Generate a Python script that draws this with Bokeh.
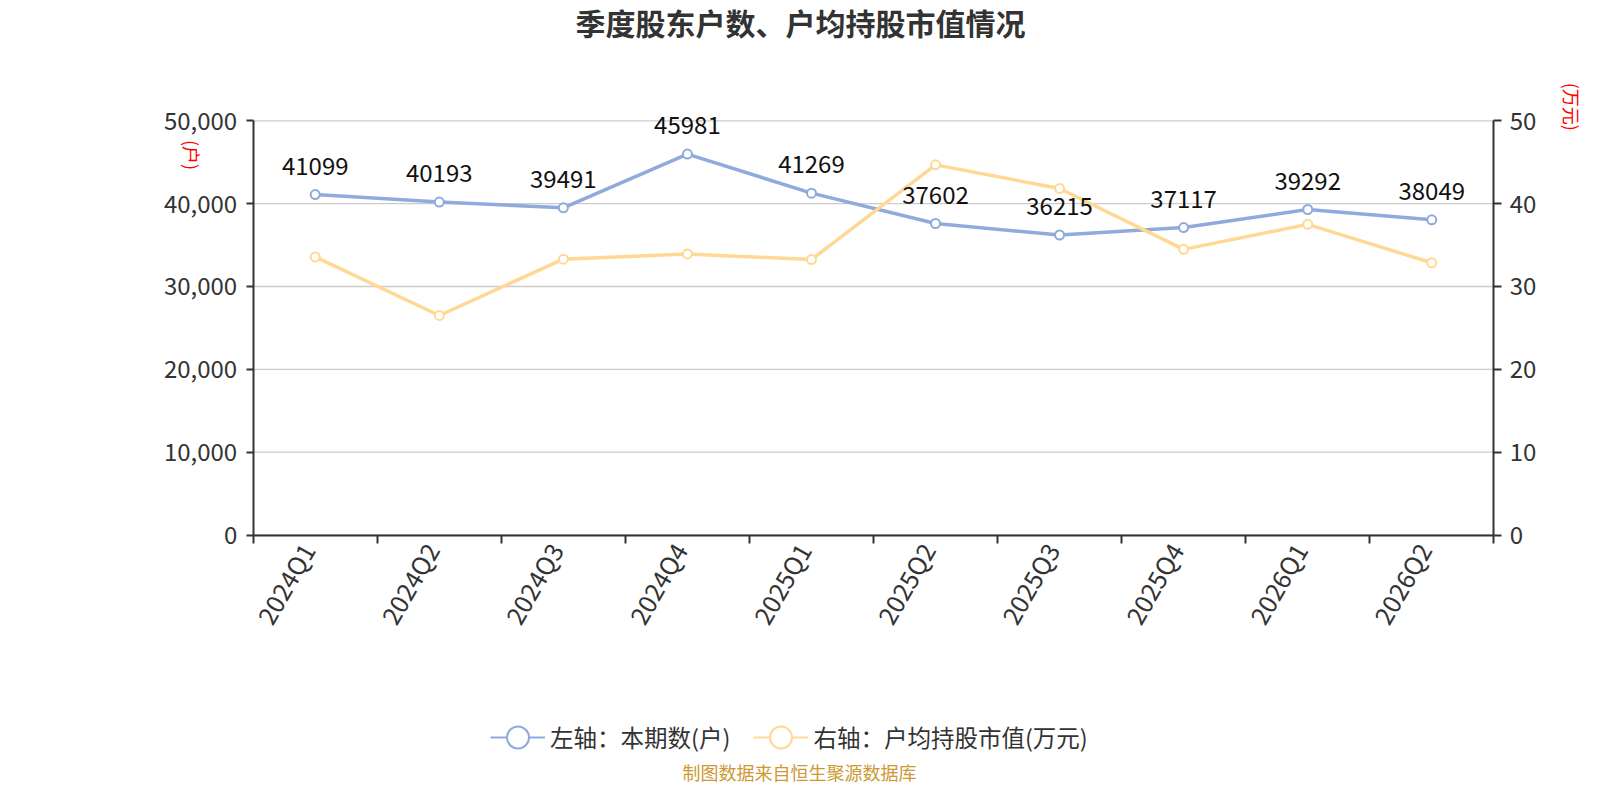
import math
from bokeh.plotting import figure
from bokeh.models import (ColumnDataSource, Range1d, LinearAxis, FixedTicker,
                          NumeralTickFormatter, Label, LabelSet, Legend, LegendItem)
from bokeh.core.properties import value
from bokeh.embed import file_html
from bokeh.resources import INLINE

# ---- data ----
quarters = ["2024Q1", "2024Q2", "2024Q3", "2024Q4", "2025Q1",
            "2025Q2", "2025Q3", "2025Q4", "2026Q1", "2026Q2"]
holders = [41099, 40193, 39491, 45981, 41269, 37602, 36215, 37117, 39292, 38049]
avg_value = [33.57, 26.50, 33.30, 33.93, 33.25, 44.68, 41.83, 34.48, 37.50, 32.86]
left_ticks = [0, 10000, 20000, 30000, 40000, 50000]
right_ticks = [0, 10, 20, 30, 40, 50]

title_text = "季度股东户数、户均持股市值情况"
legend_left = "左轴：本期数(户)"
legend_right = "右轴：户均持股市值(万元)"
unit_left = "(户)"
unit_right = "(万元)"
footer_text = "制图数据来自恒生聚源数据库"

FONT = "Noto Sans CJK SC"
BLUE = "#8FAADC"
ORANGE = "#FFD994"
AXIS = "#333333"

# ---- layout (pixels in the canvas) ----
W, H = 1584, 784
PLOT_L, PLOT_R = 252.7, 1493.3      # left / right axis lines
PLOT_T, PLOT_B = 120.3, 534.5       # top (max tick) / bottom (zero) of axes
XLABEL_SHIFT_PX = 8                 # rotated category labels sit a bit left of centre

n = len(quarters)
y_max = left_ticks[-1]
r_max = right_ticks[-1]
ux = n / (PLOT_R - PLOT_L)
uy = y_max / (PLOT_B - PLOT_T)
x_range = Range1d(-PLOT_L * ux, n + (W - PLOT_R) * ux)
y_range = Range1d(-(H - PLOT_B) * uy, y_max + PLOT_T * uy)
r_scale = r_max / y_max
right_range = Range1d(y_range.start * r_scale, y_range.end * r_scale)

xs = [i + 0.5 for i in range(n)]
label_pos = [x - XLABEL_SHIFT_PX * ux for x in xs]
src = ColumnDataSource(dict(x=xs, h=holders, v=avg_value,
                            lbl=[str(h) for h in holders]))
grid_src = ColumnDataSource(dict(y=left_ticks, x0=[0] * len(left_ticks),
                                 x1=[n] * len(left_ticks)))

p = figure(width=W, height=H, output_backend="svg", toolbar_location=None,
           x_range=x_range, y_range=y_range,
           min_border=0, min_border_left=0, min_border_right=0,
           min_border_top=0, min_border_bottom=0)
p.title.visible = False
p.extra_y_ranges = {"right": right_range}
p.outline_line_color = None
p.xgrid.visible = False
p.ygrid.visible = False

# horizontal grid lines between the two axes
p.segment(x0="x0", x1="x1", y0="y", y1="y", source=grid_src,
          line_color="#cccccc", line_width=1.3)

# x axis
xa = p.xaxis[0]
xa.fixed_location = 0
xa.bounds = (0, n)
xa.ticker = FixedTicker(ticks=label_pos, minor_ticks=list(range(n + 1)))
xa.major_label_overrides = {x: q for x, q in zip(label_pos, quarters)}
xa.major_tick_out = 0
xa.major_tick_in = 0
xa.minor_tick_out = 8
xa.minor_tick_in = 0
xa.minor_tick_line_color = AXIS
xa.minor_tick_line_width = 2
xa.axis_line_color = AXIS
xa.axis_line_width = 2
xa.major_label_orientation = math.pi / 3
xa.major_label_standoff = 2
xa.major_label_text_font = FONT
xa.major_label_text_font_size = "25px"
xa.major_label_text_color = AXIS

# left axis
ya = p.yaxis[0]
ya.fixed_location = 0
ya.bounds = (0, y_max)
ya.ticker = FixedTicker(ticks=left_ticks)
ya.formatter = NumeralTickFormatter(format="0,0")
ya.major_tick_out = 7
ya.major_tick_in = 0
ya.minor_tick_out = 0
ya.minor_tick_in = 0
ya.major_tick_line_color = AXIS
ya.major_tick_line_width = 2
ya.axis_line_color = AXIS
ya.axis_line_width = 2
ya.major_label_standoff = 9
ya.major_label_text_font = FONT
ya.major_label_text_font_size = "24px"
ya.major_label_text_color = AXIS

# right axis
ra = LinearAxis(y_range_name="right", ticker=FixedTicker(ticks=right_ticks))
ra.fixed_location = n
ra.bounds = (0, r_max)
ra.major_tick_out = 8
ra.major_tick_in = 0
ra.minor_tick_out = 0
ra.minor_tick_in = 0
ra.major_tick_line_color = AXIS
ra.major_tick_line_width = 2
ra.axis_line_color = AXIS
ra.axis_line_width = 2
ra.major_label_standoff = 8
ra.major_label_text_font = FONT
ra.major_label_text_font_size = "24px"
ra.major_label_text_color = AXIS
p.add_layout(ra, "right")

# series
p.line("x", "h", source=src, line_color=BLUE, line_width=3.5)
p.scatter("x", "h", source=src, size=9, fill_color="white",
          line_color=BLUE, line_width=2)
p.line("x", "v", source=src, y_range_name="right", line_color=ORANGE, line_width=3.5)
p.scatter("x", "v", source=src, y_range_name="right", size=9, fill_color="white",
          line_color=ORANGE, line_width=2)

labels = LabelSet(x="x", y="h", text="lbl", source=src, y_offset=20,
                  text_align="center", text_baseline="alphabetic",
                  text_font=value(FONT), text_font_size="24px", text_color="#111111")
p.add_layout(labels)

# legend symbols: renderers whose single point is NaN, so nothing shows in the plot
nan_src = ColumnDataSource(dict(x=[float("nan")], y=[float("nan")]))
dl1 = p.line("x", "y", source=nan_src, line_color=BLUE, line_width=2)
ds1 = p.scatter("x", "y", source=nan_src, fill_color="white", line_color=BLUE, line_width=2)
dl2 = p.line("x", "y", source=nan_src, line_color=ORANGE, line_width=2)
ds2 = p.scatter("x", "y", source=nan_src, fill_color="white", line_color=ORANGE, line_width=2)
legend = Legend(items=[LegendItem(label=legend_left, renderers=[dl1, ds1]),
                       LegendItem(label=legend_right, renderers=[dl2, ds2])],
                orientation="horizontal", location=(490, 19),
                glyph_width=55, glyph_height=56, label_standoff=5, spacing=23,
                padding=0, margin=0, border_line_color=None,
                background_fill_alpha=0,
                label_text_font=FONT, label_text_font_size="23.5px",
                label_text_color=AXIS)
p.add_layout(legend)

# title, units, footer
p.add_layout(Label(x=800, y=H - 21.5, x_units="screen", y_units="screen", text=title_text,
                   text_align="center", text_baseline="middle", text_font=FONT,
                   text_font_size="30px", text_font_style="bold", text_color=AXIS))
p.add_layout(Label(x=191.5, y=H - 154.5, x_units="screen", y_units="screen", text=unit_left,
                   angle=-math.pi / 2, text_align="center", text_baseline="middle",
                   text_font=FONT, text_font_size="18px", text_color="red"))
p.add_layout(Label(x=1571.7, y=H - 106.3, x_units="screen", y_units="screen", text=unit_right,
                   angle=-math.pi / 2, text_align="center", text_baseline="middle",
                   text_font=FONT, text_font_size="18px", text_color="red"))
p.add_layout(Label(x=799, y=H - 771, x_units="screen", y_units="screen", text=footer_text,
                   text_align="center", text_baseline="middle", text_font=FONT,
                   text_font_size="18px", text_color="#CC9933"))

open("out.html", "w").write(file_html(p, INLINE))
